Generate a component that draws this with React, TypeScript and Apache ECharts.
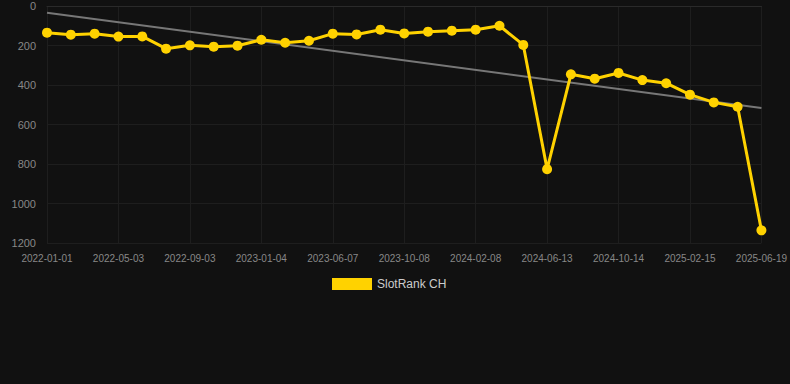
import React, { useEffect, useRef } from "react";
import * as echarts from "echarts";

const categories = [
  "2022-01-01", "2022-02-10", "2022-03-22", "2022-05-03", "2022-06-13", "2022-07-24",
  "2022-09-03", "2022-10-14", "2022-11-24", "2023-01-04", "2023-02-24", "2023-04-16",
  "2023-06-07", "2023-07-18", "2023-08-28", "2023-10-08", "2023-11-18", "2023-12-29",
  "2024-02-08", "2024-03-20", "2024-05-02", "2024-06-13", "2024-07-24", "2024-09-03",
  "2024-10-14", "2024-11-24", "2025-01-04", "2025-02-15", "2025-03-28", "2025-05-09",
  "2025-06-19",
];

const rankValues = [
  135, 145, 140, 155, 154, 216, 199, 206, 201, 171, 186, 176, 140, 144, 120, 139,
  130, 125, 120, 100, 197, 826, 346, 368, 339, 375, 391, 449, 488, 510, 1136,
];

const trendStart = 34;
const trendEnd = 516;

const yTicks = { min: 0, max: 1200, interval: 200 };

export default function App() {
  const ref = useRef<HTMLDivElement>(null);

  useEffect(() => {
    if (!ref.current) return;
    document.body.style.margin = "0";
    document.body.style.background = "#111111";
    const chart = echarts.init(ref.current, undefined, { renderer: "svg" });
    const font = "'Liberation Sans', Arial, sans-serif";
    chart.setOption({
      animation: false,
      backgroundColor: "#111111",
      textStyle: { fontFamily: font },
      grid: { left: 47, right: 28, top: 6, bottom: 141, containLabel: false },
      legend: {
        data: ["SlotRank CH"],
        top: 273,
        left: 327,
        itemWidth: 40,
        itemHeight: 12,
        icon: "rect",
        textStyle: { color: "#cccccc", fontSize: 12, fontFamily: font },
      },
      xAxis: {
        type: "category",
        data: categories,
        boundaryGap: false,
        axisLine: { lineStyle: { color: "#2a2a2a" } },
        axisTick: { show: false },
        axisLabel: { interval: 2, color: "#888888", fontSize: 10, margin: 10, fontFamily: font },
        splitLine: { show: true, interval: 2, lineStyle: { color: "#1e1e1e" } },
      },
      yAxis: {
        type: "value",
        inverse: true,
        min: yTicks.min,
        max: yTicks.max,
        interval: yTicks.interval,
        axisLine: { show: false },
        axisTick: { show: false },
        axisLabel: {
          color: "#888888",
          fontSize: 11,
          margin: 11,
          fontFamily: font,
          formatter: (v: number) => String(v),
        },
        splitLine: { show: true, lineStyle: { color: "#1e1e1e" } },
      },
      series: [
        {
          name: "SlotRank CH",
          type: "line",
          data: rankValues,
          symbol: "circle",
          symbolSize: 10,
          itemStyle: { color: "#FFD200" },
          lineStyle: { color: "#FFD200", width: 3 },
          z: 3,
          markLine: {
            silent: true,
            symbol: ["none", "none"],
            label: { show: false },
            lineStyle: { color: "#777777", width: 2, type: "solid" },
            data: [
              [
                { coord: [categories[0], trendStart] },
                { coord: [categories[categories.length - 1], trendEnd] },
              ],
            ],
            z: 2,
          },
        },
      ],
    });
    return () => chart.dispose();
  }, []);

  return <div ref={ref} style={{ width: 790, height: 384 }} />;
}
